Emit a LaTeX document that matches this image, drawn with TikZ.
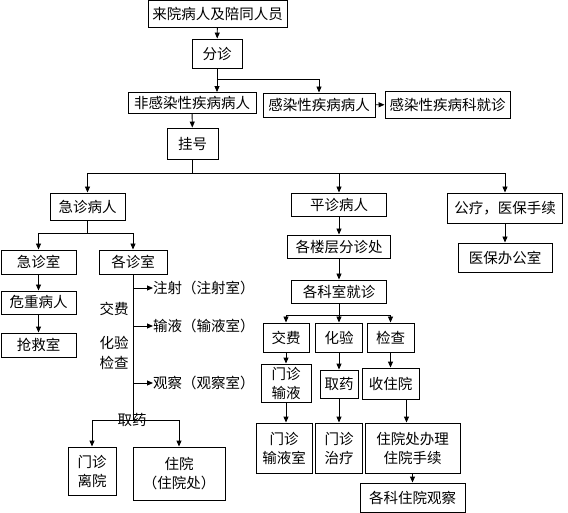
\documentclass[tikz,border=0pt]{standalone}
\usepackage{fontspec}
\setmainfont{Noto Sans CJK SC}
\usetikzlibrary{arrows.meta}

\tikzset{
  box/.style={draw, line width=0.9pt, inner sep=0pt, align=center},
  sz/.style 2 args={minimum width=#1pt, minimum height=#2pt},
  lbl/.style={inner sep=0pt, anchor=west},
  arr/.style={-{Triangle[length=6pt,width=5pt]}, line width=0.9pt},
  ln/.style={line width=0.9pt}
}

\begin{document}
\begin{tikzpicture}[x=1pt, y=-1pt, font=\fontsize{14.5}{19}\selectfont]
    \useasboundingbox (0,0) rectangle (568,513);

    \node[box, sz={139}{27}] (start) at (217.5,13.5) {来院病人及陪同人员};
    \node[box, sz={50}{29}] (fz) at (217,53.5) {分诊};
    \node[box, sz={128}{21}] (non) at (192,103) {非感染性疾病病人};
    \node[box, sz={112}{24}] (inf) at (319,105) {感染性疾病病人};
    \node[box, sz={125}{27}] (infk) at (447.5,104.5) {感染性疾病科就诊};
    \node[box, sz={51}{31}] (gh) at (192.5,143.5) {挂号};

    \node[box, sz={75}{27}] (jz) at (87.5,206.5) {急诊病人};
    \node[box, sz={95}{23}] (pz) at (339,204.5) {平诊病人};
    \node[box, sz={115}{30}] (gl) at (505,208) {公疗，医保手续};
    \node[box, sz={94}{29}] (yb) at (505,257.5) {医保办公室};

    \node[box, sz={75}{24}] (jzs) at (38.5,262) {急诊室};
    \node[box, sz={68}{24}] (gzs) at (133,262) {各诊室};
    \node[box, sz={75}{23}] (wz) at (38.5,302.5) {危重病人};
    \node[box, sz={75}{24}] (qj) at (38.5,345) {抢救室};

    \node[lbl] (zs) at (153,288) {注射（注射室）};
    \node[lbl] (sy) at (153,326) {输液（输液室）};
    \node[lbl] (gc) at (153,383) {观察（观察室）};
    \node[inner sep=0pt] (jfl) at (114,309) {交费};
    \node[inner sep=0pt] (hyl) at (114,343) {化验};
    \node[inner sep=0pt] (jcl) at (114,363) {检查};
    \node[inner sep=0pt] (qyl) at (132,420) {取药};
    \node[box, sz={48}{48}] (mz) at (92,471) {门诊\\离院};
    \node[box, sz={92}{53}] (zy) at (179,473.5) {住院\\（住院处）};

    \node[box, sz={103}{23}] (lc) at (339,246.5) {各楼层分诊处};
    \node[box, sz={95}{23}] (kz) at (339,291.5) {各科室就诊};
    \node[box, sz={46}{29}] (jf) at (286,337.5) {交费};
    \node[box, sz={47}{29}] (hy) at (339,337.5) {化验};
    \node[box, sz={47}{29}] (jc) at (390.5,337.5) {检查};
    \node[box, sz={50}{38}] (mzsy) at (286,383) {门诊\\输液};
    \node[box, sz={38}{28}] (qy) at (339,384) {取药};
    \node[box, sz={57}{31}] (szy) at (390.5,383.5) {收住院};
    \node[box, sz={56}{50}] (mzsys) at (284,448) {门诊\\输液室};
    \node[box, sz={47}{50}] (mzzl) at (339,448) {门诊\\治疗};
    \node[box, sz={95}{50}] (zyb) at (412.5,448) {住院处办理\\住院手续};
    \node[box, sz={105}{29}] (gk) at (412.5,497.5) {各科住院观察};

    \draw[arr] (start) -- (fz);
    \draw[arr] (fz.south) -- (fz.south |- non.north);
    \draw[arr] (fz.south) -- ++(0,11) -| (inf.north);
    \draw[arr] (inf) -- (infk);
    \draw[arr] (non) -- (gh);

    \draw[ln] (gh.south) -- ++(0,14) coordinate (gb);
    \draw[arr] (gb) -| (jz.north);
    \draw[arr] (gb) -| (pz.north);
    \draw[arr] (gb) -| (gl.north);
    \draw[arr] (gl) -- (yb);

    \draw[ln] (jz.south) -- ++(0,13) coordinate (jb);
    \draw[arr] (jb) -| (jzs.north);
    \draw[arr] (jb) -| (gzs.north);
    \draw[arr] (jzs) -- (wz);
    \draw[arr] (wz) -- (qj);

    \draw[ln] (gzs.south) -- (gzs.south |- qyl) coordinate (qb);
    \draw[arr] (gzs.south |- zs.west) -- (zs.west);
    \draw[arr] (gzs.south |- sy.west) -- (sy.west);
    \draw[arr] (gzs.south |- gc.west) -- (gc.west);
    \draw[arr] (qb) -| (mz.north);
    \draw[arr] (qb) -| (zy.north);

    \draw[arr] (pz) -- (lc);
    \draw[arr] (lc) -- (kz);
    \draw[ln] (kz.south) -- ++(0,12) coordinate (kb);
    \draw[arr] (kb) -| (jf.north);
    \draw[arr] (kb) -- (hy.north);
    \draw[arr] (kb) -| (jc.north);

    \draw[arr] (jf) -- (mzsy);
    \draw[arr] (mzsy.south) -- (mzsy.south |- mzsys.north);
    \draw[arr] (hy) -- (qy);
    \draw[arr] (qy) -- (mzzl);
    \draw[arr] (jc) -- (szy);
    \draw[arr] ([xshift=16pt]szy.south) -- ([xshift=16pt]szy.south |- zyb.north);
    \draw[arr] (zyb) -- (gk);
\end{tikzpicture}
\end{document}
